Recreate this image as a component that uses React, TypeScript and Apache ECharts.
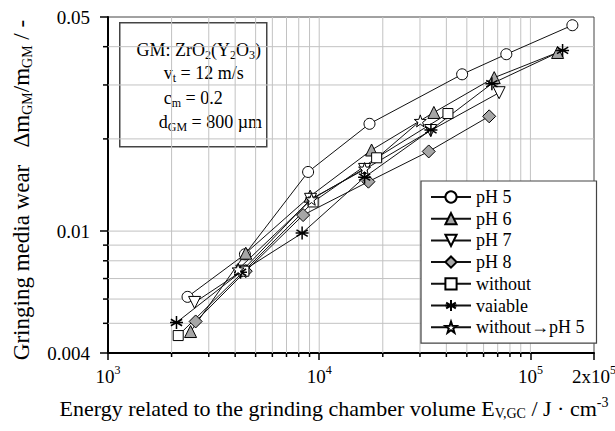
import React, { useEffect, useRef } from 'react';
import * as echarts from 'echarts';

const FONT = "'Liberation Serif', 'Times New Roman', serif";

// ---- data ----
const ph5X = [2380, 4450, 8860, 17300, 47500, 76900, 158000];
const ph5Y = [0.0061, 0.0084, 0.0156, 0.0224, 0.0325, 0.0378, 0.047];
const ph6X = [2460, 4490, 9060, 17700, 34900, 67400, 134500];
const ph6Y = [0.0047, 0.00847, 0.013, 0.0184, 0.0244, 0.0317, 0.0383];
const ph7X = [2570, 4300, 9100, 16400, 33700, 71100];
const ph7Y = [0.00585, 0.0074, 0.0127, 0.0159, 0.0213, 0.0283];
const ph8X = [2600, 4490, 8390, 17100, 33000, 63800];
const ph8Y = [0.00507, 0.0074, 0.01128, 0.0145, 0.0182, 0.0237];
const withoutX = [2150, 4400, 9360, 18700, 40700];
const withoutY = [0.00456, 0.0074, 0.01245, 0.01735, 0.0242];
const variableX = [2110, 4240, 8300, 16400, 33800, 65700, 142000];
const variableY = [0.00503, 0.00734, 0.00985, 0.015, 0.0214, 0.0303, 0.0389];
const switchX = [4130, 9200, 16400, 30100];
const switchY = [0.0075, 0.0127, 0.016, 0.0229];

const seriesNames = ['pH 5', 'pH 6', 'pH 7', 'pH 8', 'without', 'vaiable', 'without\u2192pH 5'];

const X_MIN = 1000;
const X_MAX = 200000;
const Y_MIN = 0.004;
const Y_MAX = 0.05;

const xTickValues = [1000, 10000, 100000, 200000];
const xTickLabels = ['10{sup|3}', '10{sup|4}', '10{sup|5}', '2x10{sup|5}'];
const yTickValues = [0.004, 0.01, 0.05];
const yTickLabels = ['0.004', '0.01', '0.05'];

const xMinorValues = [2000, 3000, 4000, 5000, 6000, 7000, 8000, 9000, 20000, 30000, 40000, 50000, 60000, 70000, 80000, 90000];
const xMajorValues = [10000, 100000];
const yMinorValues = [0.005, 0.006, 0.007, 0.008, 0.009, 0.02, 0.03, 0.04];
const yMajorValues = [0.01];

const pairs = (xs: number[], ys: number[]) => xs.map((x, i) => [x, ys[i]]);

const nearestLabel = (v: number, vals: number[], labels: string[]) => {
  let best = 0;
  let bd = Infinity;
  vals.forEach((t, i) => {
    const d = Math.abs(Math.log10(v) - Math.log10(t));
    if (d < bd) { bd = d; best = i; }
  });
  return labels[best];
};

const TRI_DOWN = 'path://M-1,-0.87L1,-0.87L0,0.87Z';
const STAR = 'path://M0,-1L0.235,-0.324L0.951,-0.309L0.38,0.124L0.588,0.809L0,0.4L-0.588,0.809L-0.38,0.124L-0.951,-0.309L-0.235,-0.324Z';
const ASTER = 'path://M0,-1L0,1M-0.866,-0.5L0.866,0.5M-0.866,0.5L0.866,-0.5M-1,0L1,0';

const GRAY = '#a6a6a6';

function lineSeries(name: string, data: number[][], symbol: string, size: number, fill: string, borderWidth = 1) {
  return {
    type: 'line',
    name,
    data,
    symbol,
    symbolSize: size,
    showAllSymbol: true,
    z: 5,
    lineStyle: { color: '#111', width: 1 },
    itemStyle: { color: fill, borderColor: '#000', borderWidth, opacity: 1 },
    emphasis: { disabled: true },
  };
}

export default function App() {
  const ref = useRef<HTMLDivElement>(null);
  useEffect(() => {
    if (!ref.current) return;
    const chart = echarts.init(ref.current, null, { renderer: 'svg' });

    const vGrid = (ticks: boolean) => (params: any, api: any) => {
      const v = api.value(0);
      const b = api.coord([v, Y_MIN]);
      const t = api.coord([v, Y_MAX]);
      const children: any[] = [
        { type: 'line', shape: { x1: b[0], y1: b[1], x2: t[0], y2: t[1] }, style: { stroke: '#c2c2c2', lineWidth: 1 } },
      ];
      if (ticks) children.push({ type: 'line', shape: { x1: b[0], y1: b[1], x2: b[0], y2: b[1] + 4 }, style: { stroke: '#000', lineWidth: 1.5 } });
      return { type: 'group', children };
    };
    const hGrid = (ticks: boolean) => (params: any, api: any) => {
      const v = api.value(1);
      const l = api.coord([X_MIN, v]);
      const r = api.coord([X_MAX, v]);
      const children: any[] = [
        { type: 'line', shape: { x1: l[0], y1: l[1], x2: r[0], y2: r[1] }, style: { stroke: '#c2c2c2', lineWidth: 1 } },
      ];
      if (ticks) children.push({ type: 'line', shape: { x1: l[0] - 5, y1: l[1], x2: l[0], y2: l[1] }, style: { stroke: '#000', lineWidth: 1.5 } });
      return { type: 'group', children };
    };

    const subRich = (size: number, pad: number) => ({ fontFamily: FONT, fontSize: size, color: '#000', padding: [pad, 0, 0, 0] });
    const supRich = (size: number, pad: number) => ({ fontFamily: FONT, fontSize: size, color: '#000', padding: [0, 0, pad, 0] });

    const boxText = (text: string, x: number, y: number, align: string) => ({
      type: 'text', x, y,
      style: {
        text, align, verticalAlign: 'middle',
        fontFamily: FONT, fontSize: 18, fill: '#000',
        rich: { s: { fontSize: 12, fontFamily: FONT, fill: '#000', padding: [10, 0, 0, 0] } },
      },
    });

    const option: any = {
      animation: false,
      backgroundColor: '#fff',
      textStyle: { fontFamily: FONT },
      grid: {
        left: 108, right: 21, top: 17, bottom: 78,
        containLabel: false,
        outerBoundsMode: 'none',
        show: true, borderColor: '#444', borderWidth: 1, backgroundColor: 'transparent',
      },
      xAxis: {
        type: 'log',
        logBase: 10,
        min: X_MIN,
        max: X_MAX,
        name: 'Energy related to the grinding chamber volume E{sub|V,GC} / J \u00b7 cm{sup|-3}',
        nameLocation: 'middle',
        nameGap: 42,
        nameTextStyle: {
          fontFamily: FONT, fontSize: 22, color: '#000',
          padding: [0, 34, 0, 0],
          rich: { sub: subRich(14, 11), sup: supRich(14, 12) },
        },
        axisLine: { show: true, lineStyle: { color: '#000', width: 2 } },
        axisTick: { show: true, inside: false, length: 7, lineStyle: { color: '#000', width: 1.5 } },
        splitLine: { show: false },
        minorTick: { show: false },
        axisLabel: {
          margin: 11,
          fontFamily: FONT,
          fontSize: 19,
          color: '#000',
          hideOverlap: false,
          formatter: (v: number) => nearestLabel(v, xTickValues, xTickLabels),
          rich: { sup: supRich(12, 12) },
        },
      },
      yAxis: {
        type: 'log',
        logBase: 10,
        min: Y_MIN,
        max: Y_MAX,
        name: 'Gringing media wear   \u0394m{sub|GM}/m{sub|GM} / -',
        nameLocation: 'middle',
        nameRotate: 90,
        nameGap: 74,
        nameTextStyle: {
          fontFamily: FONT, fontSize: 23, color: '#000',
          padding: [0, 10, 0, 0],
          rich: { sub: subRich(14, 11) },
        },
        axisLine: { show: true, lineStyle: { color: '#000', width: 2 } },
        axisTick: { show: true, inside: false, length: 8, lineStyle: { color: '#000', width: 1.5 } },
        splitLine: { show: false },
        minorTick: { show: false },
        axisLabel: {
          margin: 18,
          fontFamily: FONT,
          fontSize: 19,
          color: '#000',
          formatter: (v: number) => nearestLabel(v, yTickValues, yTickLabels),
        },
      },
      legend: {
        orient: 'vertical',
        left: 421,
        top: 181,
        width: 173,
        padding: [7, 12, 7, 9],
        itemWidth: 40,
        itemHeight: 14,
        itemGap: 3.7,
        backgroundColor: '#fff',
        borderColor: '#444',
        borderWidth: 1.2,
        borderRadius: 0,
        selectedMode: false,
        textStyle: { fontFamily: FONT, fontSize: 18, color: '#000' },
        data: seriesNames,
      },
      graphic: [
        {
          type: 'group',
          left: 119,
          top: 22,
          z: 20,
          children: [
            { type: 'rect', shape: { x: 0, y: 0, width: 147, height: 124 }, style: { fill: '#fff', stroke: '#444', lineWidth: 1.5 } },
            boxText('GM: ZrO{s|2}(Y{s|2}O{s|3})', 79, 27, 'center'),
            boxText('v{s|t} = 12 m/s', 44, 50, 'left'),
            boxText('c{s|m} = 0.2', 44, 75, 'left'),
            boxText('d{s|GM} = 800 \u00b5m', 39, 99, 'left'),
          ],
        },
      ],
      series: [
        { type: 'custom', name: 'gx', silent: true, z: 1, data: xMinorValues.map((v) => [v, Y_MIN]), encode: { x: 0, y: 1 }, renderItem: vGrid(true) },
        { type: 'custom', name: 'gX', silent: true, z: 1, data: xMajorValues.map((v) => [v, Y_MIN]), encode: { x: 0, y: 1 }, renderItem: vGrid(false) },
        { type: 'custom', name: 'gy', silent: true, z: 1, data: yMinorValues.map((v) => [X_MIN, v]), encode: { x: 0, y: 1 }, renderItem: hGrid(true) },
        { type: 'custom', name: 'gY', silent: true, z: 1, data: yMajorValues.map((v) => [X_MIN, v]), encode: { x: 0, y: 1 }, renderItem: hGrid(false) },
        lineSeries(seriesNames[0], pairs(ph5X, ph5Y), 'circle', 11, '#fff'),
        lineSeries(seriesNames[1], pairs(ph6X, ph6Y), 'triangle', 12, GRAY),
        lineSeries(seriesNames[2], pairs(ph7X, ph7Y), TRI_DOWN, 12, '#fff'),
        lineSeries(seriesNames[3], pairs(ph8X, ph8Y), 'diamond', 13, GRAY),
        lineSeries(seriesNames[4], pairs(withoutX, withoutY), 'rect', 10, '#fff'),
        lineSeries(seriesNames[5], pairs(variableX, variableY), ASTER, 13, 'none', 1.5),
        lineSeries(seriesNames[6], pairs(switchX, switchY), STAR, 12, '#fff'),
      ],
    };
    chart.setOption(option);
    return () => chart.dispose();
  }, []);
  return <div ref={ref} style={{ position: 'absolute', left: 0, top: 0, width: 615, height: 431, background: '#fff' }} />;
}
